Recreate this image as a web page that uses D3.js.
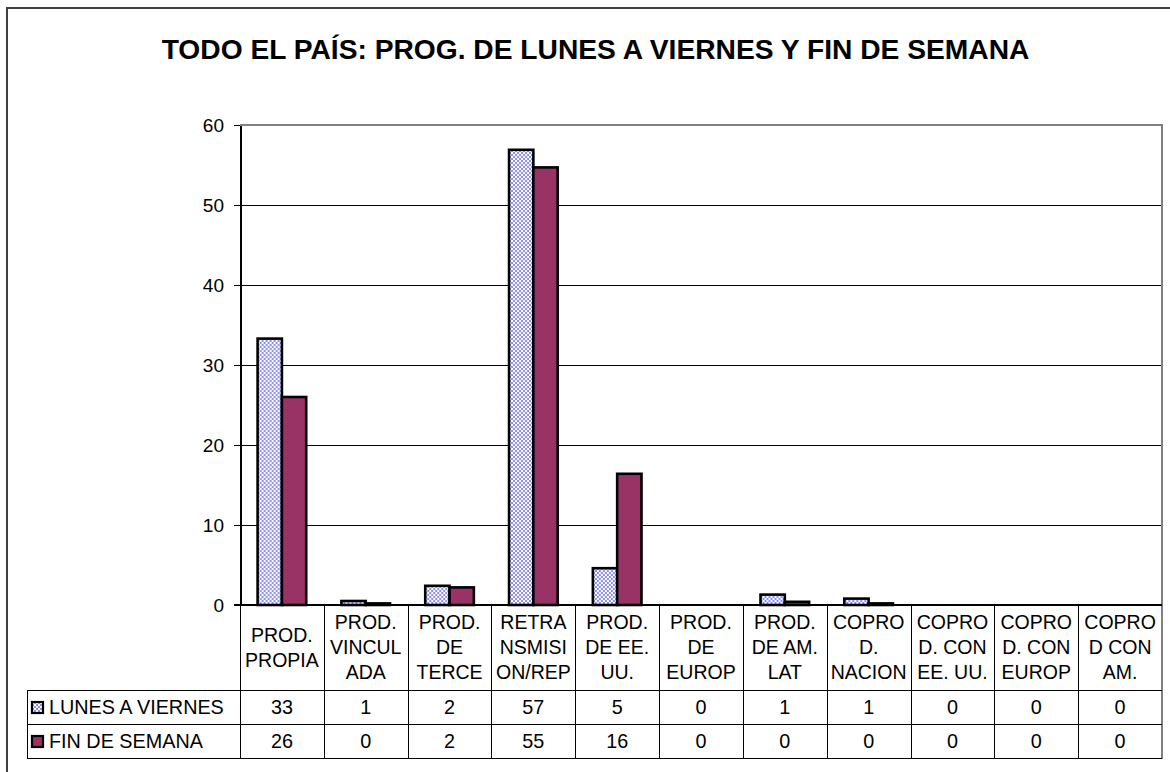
<!DOCTYPE html>
<html>
<head>
<meta charset="utf-8">
<script src="https://cdn.jsdelivr.net/npm/d3@7/dist/d3.min.js"></script>
<style>
  html, body { margin: 0; padding: 0; background: #fff; }
  svg { display: block; font-family: "Liberation Sans", Arial, sans-serif; }
</style>
</head>
<body>
<svg id="chart" width="1170" height="772"></svg>
<script>
// ---------------- data ----------------
const chartTitle = "TODO EL PAÍS: PROG. DE LUNES A VIERNES Y FIN DE SEMANA";
const categories = ["PROD. PROPIA", "PROD. VINCULADA", "PROD. DE TERCE", "RETRANSMISION/REP",
  "PROD. DE EE. UU.", "PROD. DE EUROP", "PROD. DE AM. LAT", "COPROD. NACION",
  "COPROD. CON EE. UU.", "COPROD. CON EUROP", "COPROD CON AM."];
const categoryLines = [
  ["PROD.", "PROPIA"], ["PROD.", "VINCUL", "ADA"], ["PROD.", "DE", "TERCE"],
  ["RETRA", "NSMISI", "ON/REP"], ["PROD.", "DE EE.", "UU."], ["PROD.", "DE", "EUROP"],
  ["PROD.", "DE AM.", "LAT"], ["COPRO", "D.", "NACION"], ["COPRO", "D. CON", "EE. UU."],
  ["COPRO", "D. CON", "EUROP"], ["COPRO", "D CON", "AM."]
];
const seriesNames = ["LUNES A VIERNES", "FIN DE SEMANA"];
const lunesValues = [33.3, 0.5, 2.4, 56.9, 4.6, 0, 1.3, 0.8, 0, 0, 0];
const finValues   = [26.0, 0.2, 2.2, 54.7, 16.4, 0, 0.4, 0.2, 0, 0, 0];
const yTicks = [0, 10, 20, 30, 40, 50, 60];

// ---------------- layout ----------------
const svg = d3.select("#chart");
const plot = { left: 240, right: 1162, top: 125, bottom: 605 };
const table = { left: 27, headerBottom: 690, row1Bottom: 724, row2Bottom: 758 };
const fontStack = "'Liberation Sans', Arial, sans-serif";
const tableFont = 19.8;

// pattern for LUNES A VIERNES
const defs = svg.append("defs");
const pat = defs.append("pattern").attr("id", "checker")
  .attr("patternUnits", "userSpaceOnUse").attr("width", 4).attr("height", 4);
pat.append("rect").attr("width", 4).attr("height", 4).attr("fill", "#ffffff");
pat.append("rect").attr("x", 0).attr("y", 0).attr("width", 2).attr("height", 2).attr("fill", "#8c8cff");
pat.append("rect").attr("x", 2).attr("y", 2).attr("width", 2).attr("height", 2).attr("fill", "#8c8cff");

const seriesFills = ["url(#checker)", "#993366"];
const seriesValues = [lunesValues, finValues];

// outer chart border
svg.append("rect").attr("x", 7).attr("y", 8).attr("width", 1200).attr("height", 800)
  .attr("fill", "none").attr("stroke", "#404040").attr("stroke-width", 2);

// title
svg.append("text").attr("x", 595.5).attr("y", 59).attr("text-anchor", "middle")
  .attr("font-size", 28.2).attr("font-weight", "bold").attr("fill", "#000")
  .text(chartTitle);

// scales
const x0 = d3.scaleBand().domain(categories).range([plot.left, plot.right]).padding(0);
const groupW = x0.bandwidth() * 0.58;
const x1 = d3.scaleBand().domain(seriesNames).range([0, groupW]).padding(0);
const y = d3.scaleLinear().domain([0, 60]).range([plot.bottom, plot.top]);

// gridlines
svg.append("g").selectAll("line").data(yTicks.filter(t => t > 0 && t < 60)).join("line")
  .attr("x1", plot.left).attr("x2", plot.right)
  .attr("y1", d => y(d) + 0.5).attr("y2", d => y(d) + 0.5)
  .attr("stroke", "#000").attr("stroke-width", 1).attr("shape-rendering", "crispEdges");

// plot border (top, right) gray
svg.append("line").attr("x1", plot.left).attr("x2", plot.right).attr("y1", y(60)).attr("y2", y(60))
  .attr("stroke", "#808080").attr("stroke-width", 2).attr("shape-rendering", "crispEdges");
svg.append("line").attr("x1", plot.right).attr("x2", plot.right).attr("y1", y(60) - 1).attr("y2", table.row2Bottom + 1)
  .attr("stroke", "#808080").attr("stroke-width", 2).attr("shape-rendering", "crispEdges");

// bars
const groups = svg.append("g").selectAll("g").data(categories).join("g")
  .attr("transform", d => `translate(${x0(d) + (x0.bandwidth() - groupW) / 2},0)`);
groups.selectAll("rect")
  .data((d, i) => seriesNames.map((s, j) => ({ s, j, v: seriesValues[j][i] })).filter(e => e.v > 0))
  .join("rect")
  .attr("x", e => x1(e.s))
  .attr("width", x1.bandwidth())
  .attr("y", e => y(e.v))
  .attr("height", e => y(0) - y(e.v))
  .attr("fill", e => seriesFills[e.j])
  .attr("stroke", "#000").attr("stroke-width", 2.6);

// y axis
const yAxis = svg.append("g").attr("transform", `translate(${plot.left},0)`)
  .call(d3.axisLeft(y).tickValues(yTicks).tickSize(6).tickPadding(10).tickSizeOuter(0));
yAxis.select(".domain").attr("stroke", "#000").attr("stroke-width", 2).attr("shape-rendering", "crispEdges");
yAxis.selectAll(".tick line").attr("stroke", "#000").attr("stroke-width", 1).attr("shape-rendering", "crispEdges");
yAxis.selectAll(".tick text").attr("font-size", 19).attr("font-family", fontStack)
  .attr("fill", "#000").attr("dy", "0.34em");

// x axis baseline
svg.append("line").attr("x1", plot.left - 6).attr("x2", plot.right).attr("y1", y(0)).attr("y2", y(0))
  .attr("stroke", "#000").attr("stroke-width", 2).attr("shape-rendering", "crispEdges");

// ---------------- data table ----------------
const tg = svg.append("g").attr("shape-rendering", "crispEdges");
// horizontal lines
[table.headerBottom, table.row1Bottom, table.row2Bottom].forEach(yy => {
  tg.append("line").attr("x1", table.left).attr("x2", plot.right).attr("y1", yy + 0.5).attr("y2", yy + 0.5)
    .attr("stroke", "#000").attr("stroke-width", 1);
});
// vertical lines
tg.append("line").attr("x1", table.left + 0.5).attr("x2", table.left + 0.5)
  .attr("y1", table.headerBottom).attr("y2", table.row2Bottom).attr("stroke", "#000").attr("stroke-width", 1);
tg.selectAll("line.vcol").data(categories).join("line").attr("class", "vcol")
  .attr("x1", d => Math.round(x0(d)) + 0.5).attr("x2", d => Math.round(x0(d)) + 0.5)
  .attr("y1", plot.bottom).attr("y2", table.row2Bottom)
  .attr("stroke", "#000").attr("stroke-width", 1);

// category header labels
const lineH = 25;
const headerMid = (plot.bottom + table.headerBottom) / 2;
svg.append("g").selectAll("text.cat").data(categories).join("text").attr("class", "cat")
  .attr("text-anchor", "middle").attr("font-size", 19.5).attr("fill", "#000")
  .each(function (d, i) {
    const lines = categoryLines[i];
    const cx = x0(d) + x0.bandwidth() / 2;
    const startY = headerMid - (lines.length - 1) * lineH / 2;
    d3.select(this).selectAll("tspan").data(lines).join("tspan")
      .attr("x", cx).attr("y", (l, k) => startY + k * lineH).attr("dy", "0.35em").text(l => l);
  });

// rows
const rowMids = [(table.headerBottom + table.row1Bottom) / 2, (table.row1Bottom + table.row2Bottom) / 2];
const rg = svg.append("g");
seriesNames.forEach((name, j) => {
  const ym = rowMids[j] + 0.5;
  rg.append("rect").attr("x", 32).attr("y", ym - 5.5).attr("width", 11).attr("height", 11)
    .attr("fill", seriesFills[j]).attr("stroke", "#000").attr("stroke-width", 2.2);
  rg.append("text").attr("x", 49).attr("y", ym).attr("dy", "0.35em")
    .attr("font-size", tableFont).attr("fill", "#000").text(name);
  rg.selectAll(null).data(categories).join("text")
    .attr("x", d => x0(d) + x0.bandwidth() / 2).attr("y", ym).attr("dy", "0.35em")
    .attr("text-anchor", "middle").attr("font-size", tableFont).attr("fill", "#000")
    .text((d, i) => Math.round(seriesValues[j][i]));
});
</script>
</body>
</html>
